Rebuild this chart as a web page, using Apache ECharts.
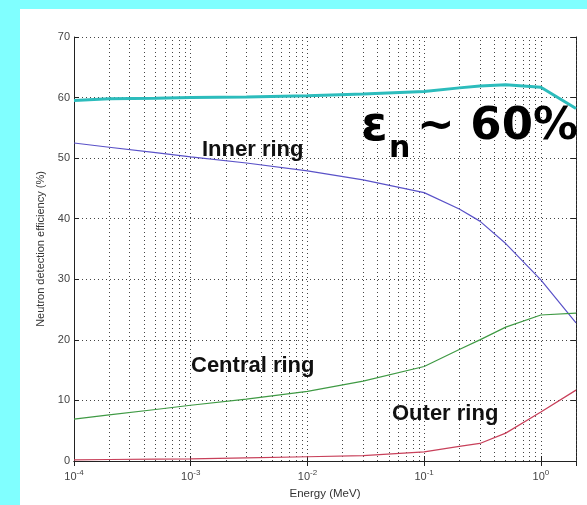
<!DOCTYPE html>
<html><head><meta charset="utf-8">
<script src="https://cdn.jsdelivr.net/npm/echarts@6/dist/echarts.min.js"></script>
<style>html,body{margin:0;padding:0;background:#80ffff;}#c{width:587px;height:505px;}</style>
</head><body><div id="c"></div>
<script>
// Energy (MeV) sample points
const energy = [1e-4, 2e-4, 5e-4, 1e-3, 3e-3, 1e-2, 3e-2, 0.1, 0.2, 0.3, 0.5, 1.0, 2.0];
// Efficiencies (%)
const totalEff   = [59.5, 59.8, 59.9, 60.0, 60.1, 60.3, 60.6, 61.0, 61.6, 61.9, 62.1, 61.7, 58.2];
const innerEff   = [52.5, 51.8, 50.9, 50.2, 49.2, 47.9, 46.4, 44.3, 41.6, 39.6, 35.9, 29.9, 22.8];
const centralEff = [6.9, 7.6, 8.5, 9.2, 10.2, 11.5, 13.2, 15.6, 18.4, 20.0, 22.1, 24.1, 24.4];
const outerEff   = [0.2, 0.25, 0.3, 0.35, 0.5, 0.7, 0.9, 1.5, 2.4, 2.9, 4.6, 8.1, 11.7];
const yTicks = [0, 10, 20, 30, 40, 50, 60, 70];
const labels = ['Inner ring', 'Central ring', 'Outer ring'];

const minorX = [];
for (let e = -4; e <= 0; e++) for (let m = 2; m <= 9; m++) { const v = m * Math.pow(10, e); if (v <= 2) minorX.push(v); }

const pair = a => energy.map((x, i) => [x, a[i]]);
const chart = echarts.init(document.getElementById('c'));
const narrow = 'Liberation Sans Narrow, Liberation Sans, sans-serif';
const tickFont = {fontFamily: narrow, fontSize: 11, color: '#444'};
const gridLine = {type: [1, 3], color: '#444', width: 1};
const labelFont = 'bold 22px Liberation Sans, Arial, sans-serif';
chart.setOption({
  animation: false,
  graphic: [
    {type: 'rect', shape: {x: 20, y: 9, width: 567, height: 496}, style: {fill: '#ffffff'}, z: -10},
    {type: 'text', left: 202, top: 139, style: {text: labels[0], font: labelFont, fill: '#111'}, z: 50},
    {type: 'text', left: 191, top: 355, style: {text: labels[1], font: labelFont, fill: '#111'}, z: 50},
    {type: 'text', left: 392, top: 403, style: {text: labels[2], font: labelFont, fill: '#111'}, z: 50},
    {type: 'text', left: 361, top: 104, z: 50, style: {text: 'ε', font: 'bold 48px DejaVu Sans, sans-serif', fill: '#000'}},
    {type: 'text', left: 389, top: 134, z: 50, style: {text: 'n', font: 'bold 30px DejaVu Sans, sans-serif', fill: '#000'}},
    {type: 'text', left: 417, top: 105, z: 50, style: {text: '~ 60%', font: 'bold 45px DejaVu Sans, sans-serif', fill: '#000'}}
  ],
  grid: {left: 74, top: 37, right: 11, bottom: 44},
  xAxis: [{
    type: 'log', logBase: 10, min: 1e-4, max: 2, interval: 1,
    name: 'Energy (MeV)', nameLocation: 'middle', nameGap: 24,
    nameTextStyle: {fontFamily: narrow, fontSize: 11.5, color: '#333'},
    axisLine: {lineStyle: {color: '#222', width: 1}},
    axisTick: {inside: true, length: 5, lineStyle: {color: '#222'}},
    splitLine: {show: true, lineStyle: gridLine},
    axisLabel: Object.assign({showMaxLabel: false, margin: 8,
      formatter: v => { const e = Math.round(Math.log10(v)); if (Math.abs(Math.log10(v) - e) > 1e-6) return ''; return '10{s|' + e + '}'; },
      rich: {s: {fontSize: 8, padding: [0, 0, 8, 0], color: '#444', fontFamily: narrow}}
    }, tickFont)
  }, {
    type: 'log', logBase: 10, min: 1e-4, max: 2, interval: 1, position: 'top',
    axisLine: {lineStyle: {color: '#222'}}, axisTick: {inside: true, length: 5, lineStyle: {color: '#222'}},
    axisLabel: {show: false}, splitLine: {show: false}
  }],
  yAxis: [{
    type: 'value', min: 0, max: 70, interval: 10,
    name: 'Neutron detection efficiency (%)', nameLocation: 'middle', nameGap: 15,
    nameTextStyle: {fontFamily: narrow, fontSize: 11, color: '#333'},
    axisLine: {show: true, lineStyle: {color: '#222'}},
    axisTick: {show: true, inside: true, length: 5, lineStyle: {color: '#222'}},
    splitLine: {show: true, lineStyle: gridLine},
    axisLabel: Object.assign({margin: 4, formatter: v => yTicks.includes(v) ? String(v) : ''}, tickFont)
  }, {
    type: 'value', min: 0, max: 70, interval: 10, position: 'right',
    axisLine: {show: true, lineStyle: {color: '#222'}},
    axisTick: {show: true, inside: true, length: 5, lineStyle: {color: '#222'}},
    axisLabel: {show: false}, splitLine: {show: false}
  }],
  series: [
    {type: 'line', data: pair(totalEff), symbol: 'none', lineStyle: {color: '#2cbcbc', width: 3}, z: 5,
     markLine: {silent: true, symbol: 'none', label: {show: false}, animation: false,
       lineStyle: gridLine,
       data: minorX.map(v => [{coord: [v, 0]}, {coord: [v, 70]}])}},
    {type: 'line', data: pair(innerEff), symbol: 'none', lineStyle: {color: '#5a52c8', width: 1.2}, z: 5},
    {type: 'line', data: pair(centralEff), symbol: 'none', lineStyle: {color: '#3f9a44', width: 1.2}, z: 5},
    {type: 'line', data: pair(outerEff), symbol: 'none', lineStyle: {color: '#c8405a', width: 1.2}, z: 5}
  ]
});
</script></body></html>
